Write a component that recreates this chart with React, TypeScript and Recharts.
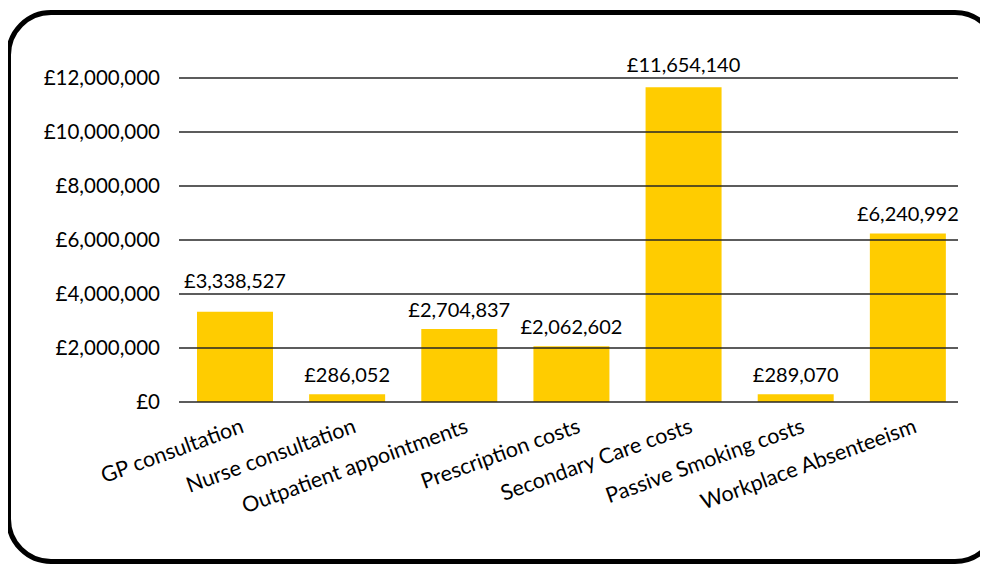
import { BarChart, Bar, XAxis, YAxis, LabelList, ReferenceLine } from 'recharts';

const categories = [
  'GP consultation',
  'Nurse consultation',
  'Outpatient appointments',
  'Prescription costs',
  'Secondary Care costs',
  'Passive Smoking costs',
  'Workplace Absenteeism',
];
const costs = [3338527, 286052, 2704837, 2062602, 11654140, 289070, 6240992];
const yTicks = [0, 2000000, 4000000, 6000000, 8000000, 10000000, 12000000];

const data = categories.map((name, i) => ({ name, cost: costs[i] }));

const FONT = 'Lato, "Open Sans", sans-serif';
const fmt = (v: number) => '£' + v.toLocaleString('en-GB');

// rotated category label, anchored at its end
// eslint-disable-next-line @typescript-eslint/no-explicit-any
const AngledTick = (props: any) => {
  const { x, y, payload } = props;
  const tx = x + 10;
  const ty = y + 22;
  return (
    <text
      x={tx}
      y={ty}
      textAnchor="end"
      fill="#000"
      fontSize={21.5}
      fontFamily={FONT}
      transform={`rotate(-20, ${tx}, ${ty})`}
    >
      {payload.value}
    </text>
  );
};

// value above the bar; nudged up when it would sit on a gridline
// eslint-disable-next-line @typescript-eslint/no-explicit-any
const ValueLabel = (props: any) => {
  const vb = props.viewBox || props;
  const { x, y, width, height } = vb;
  const value = Number(props.value);
  const pxPerUnit = height / value;
  const zeroY = y + height;
  let base = y - 12;
  for (const t of yTicks) {
    const gy = zeroY - t * pxPerUnit;
    if (gy > base - 16 && gy < base + 5) base = gy - 6;
  }
  return (
    <text x={x + width / 2} y={base} textAnchor="middle" fill="#000" fontSize={20} fontFamily={FONT}>
      {fmt(value)}
    </text>
  );
};

// gridline drawn over the bars, stopping a little short of the plot edge
// eslint-disable-next-line @typescript-eslint/no-explicit-any
const GridLine = (props: any) => (
  <line x1={props.x1} y1={props.y1} x2={props.x2 - 6} y2={props.y2} stroke="#262626" strokeWidth={1.5} />
);

export default function App() {
  return (
    <div style={{ position: 'relative', width: 980, height: 557, overflow: 'hidden', fontFamily: FONT }}>
      <div
        style={{
          position: 'absolute',
          left: -2,
          top: 2,
          width: 994,
          height: 554,
          border: '5px solid #000',
          borderRadius: 45,
          boxSizing: 'border-box',
        }}
      />
      <div style={{ position: 'absolute', left: 0, top: 0 }}>
        <BarChart width={980} height={557} data={data} margin={{ top: 70, right: 24, bottom: 0, left: 0 }}>
          <XAxis dataKey="name" height={163} interval={0} axisLine={false} tickLine={false} tick={<AngledTick />} />
          <YAxis
            width={171}
            domain={[0, 12000000]}
            ticks={yTicks}
            axisLine={false}
            tickLine={false}
            tickMargin={13}
            tickFormatter={fmt}
            tick={{ fill: '#000', fontSize: 20.5, fontFamily: FONT }}
          />
          <Bar dataKey="cost" fill="#FFCC00" barSize={76} isAnimationActive={false}>
            <LabelList dataKey="cost" content={<ValueLabel />} />
          </Bar>
          {yTicks.map((t) => (
            <ReferenceLine key={t} y={t} shape={<GridLine />} />
          ))}
        </BarChart>
      </div>
    </div>
  );
}
